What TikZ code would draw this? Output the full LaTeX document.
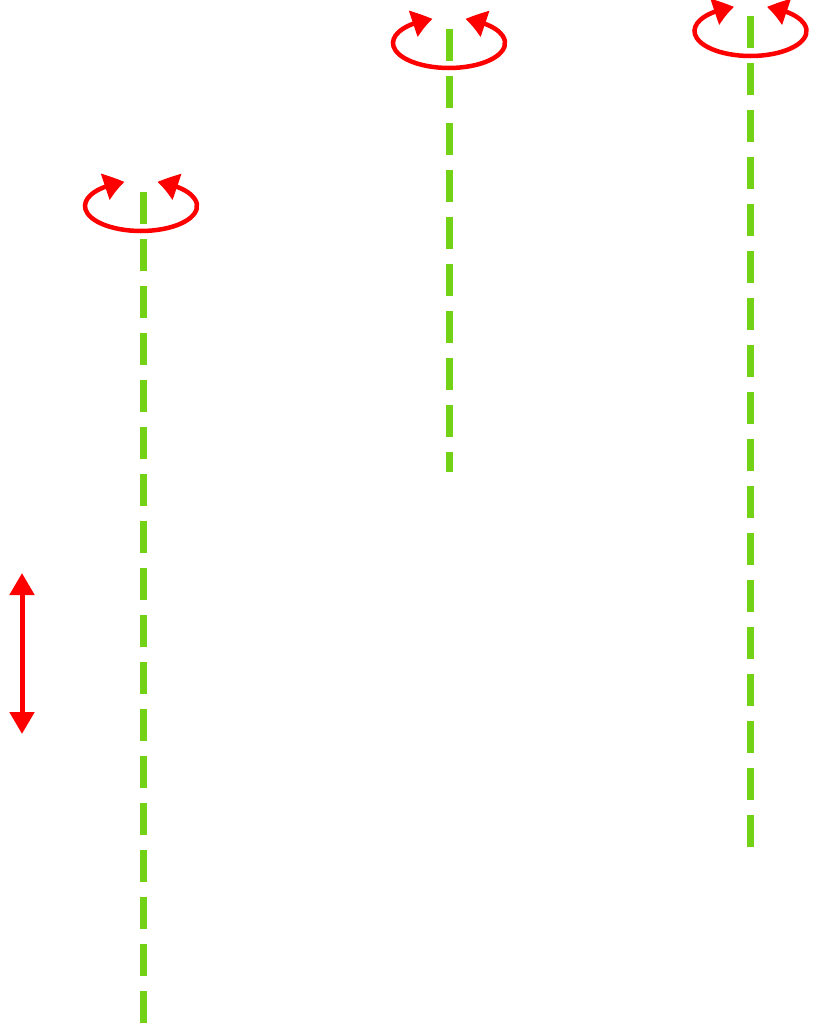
\documentclass[tikz,border=0pt]{standalone}
\usetikzlibrary{arrows.meta,bending}
\tikzset{>={Triangle[length=21pt,width=26pt,bend]}}
\definecolor{axisgreen}{RGB}{115,210,22}
\tikzset{axis/.style={axisgreen,line width=7pt,dash pattern=on 32pt off 15pt},
         spin/.style={red,line width=4.5pt,<->},
         slide/.style={red,line width=5pt,{Triangle[length=22pt,width=24pt]}-{Triangle[length=22pt,width=24pt]}}}

\begin{document}
\begin{tikzpicture}[x=1pt,y=-1pt]
\useasboundingbox (0,0) rectangle (837,1024);
\coordinate (top1) at (143,192);
\coordinate (bot1) at (143,1024);
\coordinate (top2) at (449,29);
\coordinate (bot2) at (449,472);
\coordinate (top3) at (750,16);
\coordinate (bot3) at (750,848);
\coordinate (hub1) at (141,206);
\coordinate (hub2) at (449,43);
\coordinate (hub3) at (750.5,31);
\coordinate (up) at (22,573);
\coordinate (down) at (22,734);
\draw[axis] (top1) -- (bot1);
\draw[axis] (top2) -- (bot2);
\draw[axis] (top3) -- (bot3);
\draw[spin] (hub1) ++(-107:56 and 25) arc[start angle=-107,end angle=-433,x radius=56,y radius=25];
\draw[spin] (hub2) ++(-107:56 and 25) arc[start angle=-107,end angle=-433,x radius=56,y radius=25];
\draw[spin] (hub3) ++(-107:56 and 25) arc[start angle=-107,end angle=-433,x radius=56,y radius=25];
\draw[slide] (up) -- (down);
\end{tikzpicture}
\end{document}
